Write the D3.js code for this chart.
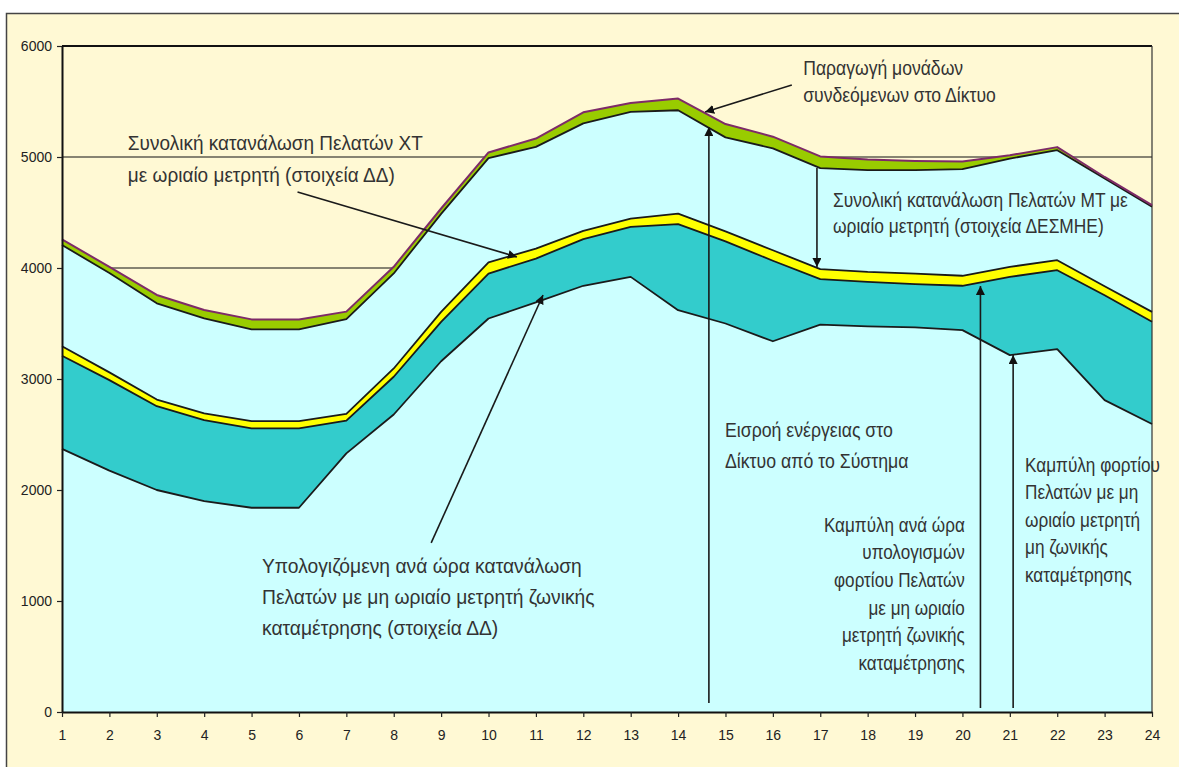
<!DOCTYPE html>
<html lang="el">
<head>
    <meta charset="utf-8">
    <title>Ισοζύγιο ενέργειας Δικτύου ανά ώρα</title>
    <script src="https://d3js.org/d3.v7.min.js"></script>
    <style>
        body { margin: 0; background: #fff; }
        svg text { font-family: "Liberation Sans", Arial, sans-serif; }
    </style>
</head>
<body>
<div id="chart"></div>

<script>
/* global d3 */

// hours of the day
var hours = [1, 2, 3, 4, 5, 6, 7, 8, 9, 10, 11, 12, 13, 14, 15, 16, 17, 18, 19, 20, 21, 22, 23, 24];

// stacked layers, bottom to top (MW)
var nonZonalLoad = [2370, 2175, 2000, 1900, 1840, 1840, 2330, 2680, 3160, 3545, 3690, 3840,
                    3920, 3620, 3500, 3340, 3490, 3475, 3465, 3440, 3215, 3270, 2810, 2595];
var zonalLoad    = [840, 815, 755, 730, 715, 715, 295, 340, 355, 405, 395, 420,
                    450, 775, 740, 725, 410, 400, 390, 400, 705, 710, 945, 920];
var ltHourly     = [85, 70, 60, 60, 65, 65, 60, 75, 90, 100, 90, 75,
                    75, 95, 90, 95, 90, 90, 95, 90, 90, 90, 80, 90];
var mtHourly     = [912, 895, 867, 856, 827, 827, 855, 856, 883, 940, 916, 968,
                    961, 931, 847, 918, 910, 916, 931, 961, 976, 991, 972, 948];
var dgGeneration = [51, 55, 75, 76, 90, 90, 67, 60, 48, 51, 75, 100,
                    81, 105, 120, 105, 105, 96, 84, 69, 30, 28, 13, 13];

var yTicks = [0, 1000, 2000, 3000, 4000, 5000, 6000];

var width = 1179,
    height = 767,
    cream = "#FFF9D4";

var layers = [
    { key: "nonZonal", values: nonZonalLoad, fill: "#CCFFFF", line: "#1a1a1a" },
    { key: "zonal",    values: zonalLoad,    fill: "#33CCCC", line: "#1a1a1a" },
    { key: "lt",       values: ltHourly,     fill: "#FFFF00", line: "#1a1a1a" },
    { key: "mt",       values: mtHourly,     fill: "#CCFFFF", line: "#1a1a1a" },
    { key: "dg",       values: dgGeneration, fill: "#99CC00", line: "#7E2A68" }
];

// annotations: anchor in (hour, MW) coordinates, w = width of first line in px
var notes = [
    { lines: ["Συνολική κατανάλωση Πελατών ΧΤ", "με ωριαίο μετρητή (στοιχεία ΔΔ)"],
      at: [2.39, 5063], lh: 32, anchor: "start", w: 295,
      arrow: [[5.97, 4685], [10.60, 4099]] },
    { lines: ["Παραγωγή μονάδων", "συνδεόμενων στο Δίκτυο"],
      at: [16.64, 5739], lh: 27, anchor: "start", w: 160,
      arrow: [[16.40, 5649], [14.57, 5405]] },
    { lines: ["Συνολική κατανάλωση Πελατών ΜΤ με", "ωριαίο μετρητή (στοιχεία ΔΕΣΜΗΕ)"],
      at: [17.27, 4547], lh: 26, anchor: "start", w: 295,
      arrow: [[16.93, 4901], [16.93, 4009]] },
    { lines: ["Εισροή ενέργειας στο", "Δίκτυο από το Σύστημα"],
      at: [14.99, 2478], lh: 31, anchor: "start", w: 168,
      arrow: [[14.65, 81], [14.65, 5270]] },
    { lines: ["Υπολογιζόμενη ανά ώρα κατανάλωση", "Πελατών με μη ωριαίο μετρητή ζωνικής", "καταμέτρησης (στοιχεία ΔΔ)"],
      at: [5.22, 1252], lh: 31, anchor: "start", w: 320,
      arrow: [[8.79, 1523], [11.15, 3757]] },
    { lines: ["Καμπύλη ανά ώρα", "υπολογισμών", "φορτίου Πελατών", "με μη ωριαίο", "μετρητή ζωνικής", "καταμέτρησης"],
      at: [20.05, 1624], lh: 27.6, anchor: "end", w: 141,
      arrow: [[20.38, 36], [20.38, 3838]] },
    { lines: ["Καμπύλη φορτίου", "Πελατών με μη", "ωριαίο μετρητή", "μη ζωνικής", "καταμέτρησης"],
      at: [21.32, 2165], lh: 27.5, anchor: "start", w: 135,
      arrow: [[21.07, 36], [21.07, 3216]] }
];

var x = d3.scaleLinear().domain([1, 24]).range([62, 1152]),
    y = d3.scaleLinear().domain([0, 6000]).range([712, 46]);

var svg = d3.select("#chart").append("svg")
    .attr("width", width)
    .attr("height", height);

// chart area (frame runs past the picture on the right and bottom)
svg.append("rect")
    .attr("x", 6.5).attr("y", 13.5)
    .attr("width", 1300).attr("height", 900)
    .attr("fill", cream)
    .attr("stroke", "#444")
    .attr("stroke-width", 1.5);

svg.append("defs").append("marker")
    .attr("id", "head")
    .attr("viewBox", "0 0 10 10")
    .attr("refX", 10).attr("refY", 5)
    .attr("markerWidth", 9).attr("markerHeight", 9)
    .attr("markerUnits", "userSpaceOnUse")
    .attr("orient", "auto")
    .append("path")
    .attr("d", "M0,0L10,5L0,10z")
    .attr("fill", "#111");

// gridlines
svg.append("g").selectAll("line")
    .data(yTicks.filter(function(d) { return d > 0; }))
    .join("line")
    .attr("x1", x(1)).attr("x2", x(24))
    .attr("y1", function(d) { return y(d); })
    .attr("y2", function(d) { return y(d); })
    .attr("stroke", "#111")
    .attr("stroke-width", function(d) { return d === 6000 ? 1.8 : 1.2; });

// stacked areas
var table = hours.map(function(h, i) {
    var row = { hour: h };
    layers.forEach(function(l) { row[l.key] = l.values[i]; });
    return row;
});

var stacked = d3.stack().keys(layers.map(function(l) { return l.key; }))(table);

var area = d3.area()
    .x(function(d) { return x(d.data.hour); })
    .y0(function(d) { return y(d[0]); })
    .y1(function(d) { return y(d[1]); });

var topLine = d3.line()
    .x(function(d) { return x(d.data.hour); })
    .y(function(d) { return y(d[1]); });

svg.append("g").selectAll("path")
    .data(stacked)
    .join("path")
    .attr("d", area)
    .attr("fill", function(d, i) { return layers[i].fill; });

// plot frame on the right
svg.append("line")
    .attr("x1", x(24)).attr("x2", x(24))
    .attr("y1", y(6000)).attr("y2", y(0))
    .attr("stroke", "#333")
    .attr("stroke-width", 1.2);

svg.append("g").selectAll("path")
    .data(stacked)
    .join("path")
    .attr("d", topLine)
    .attr("fill", "none")
    .attr("stroke", function(d, i) { return layers[i].line; })
    .attr("stroke-width", function(d, i) { return i === 4 ? 2 : 1.8; })
    .attr("stroke-linejoin", "round");

// axes
var yAxis = d3.axisLeft(y)
    .tickValues(yTicks)
    .tickSize(5)
    .tickSizeOuter(0)
    .tickPadding(5)
    .tickFormat(d3.format("d"));

var xAxis = d3.axisBottom(x)
    .tickValues(hours)
    .tickSize(5)
    .tickSizeOuter(0)
    .tickPadding(13)
    .tickFormat(d3.format("d"));

var gy = svg.append("g")
    .attr("transform", "translate(" + x(1) + ",0)")
    .call(yAxis);

var gx = svg.append("g")
    .attr("transform", "translate(0," + y(0) + ")")
    .call(xAxis);

[gx, gy].forEach(function(g) {
    g.select(".domain").attr("stroke", "#111").attr("stroke-width", 2);
    g.selectAll(".tick line").attr("stroke", "#222").attr("stroke-width", 1.2);
    g.selectAll(".tick text")
        .attr("fill", "#222")
        .style("font-size", "14px");
});

// annotations
var ann = svg.append("g");

notes.forEach(function(n) {
    ann.append("line")
        .attr("x1", x(n.arrow[0][0])).attr("y1", y(n.arrow[0][1]))
        .attr("x2", x(n.arrow[1][0])).attr("y2", y(n.arrow[1][1]))
        .attr("stroke", "#1a1a1a")
        .attr("stroke-width", 1.6)
        .attr("marker-end", "url(#head)");

    var px = x(n.at[0]),
        py = y(n.at[1]);

    var g = ann.append("g")
        .attr("transform", "translate(" + px + "," + py + ")");

    var t = g.append("text")
        .attr("text-anchor", n.anchor)
        .attr("fill", "#333")
        .style("font-size", "20px");

    n.lines.forEach(function(s, i) {
        t.append("tspan")
            .attr("x", 0)
            .attr("dy", i === 0 ? 0 : n.lh)
            .text(s);
    });

    // squeeze the narrow-looking text to the width in the picture
    var first = t.select("tspan").node().getComputedTextLength();
    g.attr("transform", "translate(" + px + "," + py + ") scale(" + (n.w / first) + ",1)");
});
</script>
</body>
</html>
